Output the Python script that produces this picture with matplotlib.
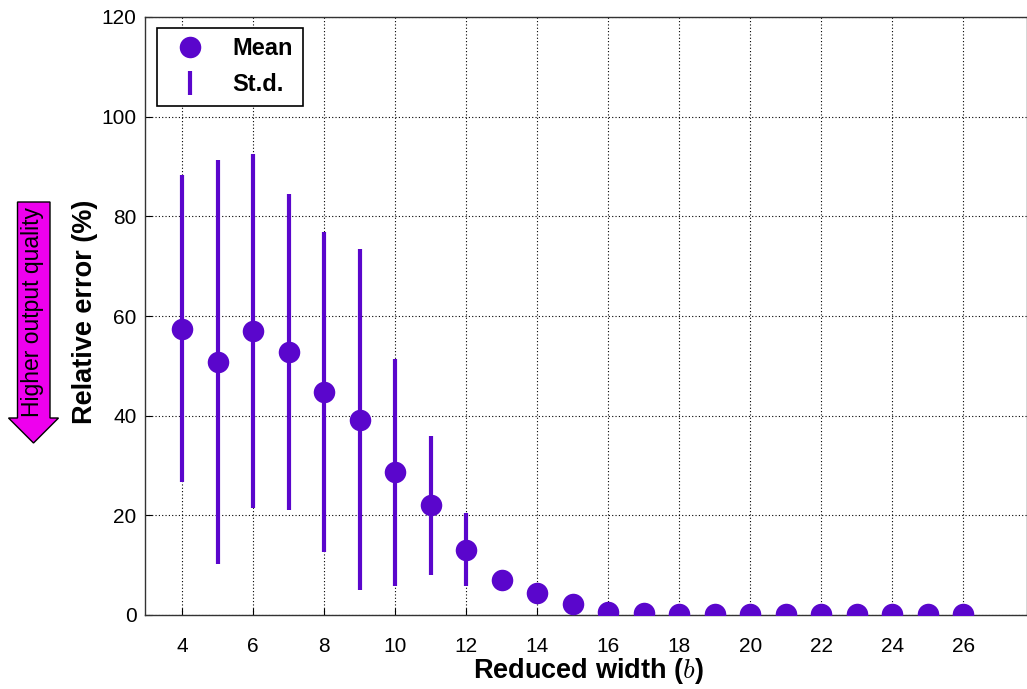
import matplotlib
matplotlib.use("Agg")
import matplotlib.pyplot as plt
from matplotlib.patches import Polygon

widths = [4, 5, 6, 7, 8, 9, 10, 11, 12, 13, 14, 15, 16, 17, 18, 19, 20, 21, 22, 23, 24, 25, 26]
mean_err = [57.4, 50.8, 57.0, 52.8, 44.8, 39.2, 28.6, 22.0, 13.1, 7.1, 4.5, 2.2, 0.7, 0.5, 0.3, 0.3, 0.3, 0.3, 0.3, 0.3, 0.3, 0.3, 0.3]
std_err = [30.8, 40.6, 35.5, 31.7, 32.1, 34.2, 22.8, 13.9, 7.3, 2.0, 1.5, 1.0, 0.5, 0.4, 0.2, 0.2, 0.2, 0.2, 0.2, 0.2, 0.2, 0.2, 0.2]
xticks = list(range(4, 27, 2))
yticks = list(range(0, 121, 20))

color = "#5a06cc"
plt.rcParams['font.family'] = ['Liberation Sans', 'DejaVu Sans']
plt.rcParams['mathtext.fontset'] = 'cm'

W, H = 1027, 689
fig = plt.figure(figsize=(W / 100, H / 100), dpi=100)
AX_L, AX_B, AX_T = 145, 615, 17
ax = fig.add_axes([AX_L / W, 1 - AX_B / H, (W - AX_L) / W, (AX_B - AX_T) / H])

ax.errorbar(widths, mean_err, yerr=std_err, fmt='none', ecolor=color,
            elinewidth=3.0, capsize=0, label='St.d.', zorder=2)
ax.plot(widths, mean_err, 'o', color=color, markersize=15.5, markeredgewidth=0,
        label='Mean', zorder=3)

ax.set_xlim(2.95, 27.8)
ax.set_ylim(0, 120)
ax.set_xticks(xticks)
ax.set_yticks(yticks)
ax.tick_params(direction='in', labelsize=15, length=5)
ax.tick_params(axis='x', pad=16)
ax.tick_params(axis='y', pad=6)
ax.grid(True, color='black', linestyle=(0, (1, 2)), linewidth=0.8)
ax.set_axisbelow(True)
for s in ax.spines.values():
    s.set_color('#333333')
    s.set_linewidth(1.0)

ax.set_xlabel('Reduced width ($b$)', fontsize=19.5, fontweight='bold')
ax.set_ylabel('Relative error (%)', fontsize=19.5, fontweight='bold')
axw, axh = W - AX_L, AX_B - AX_T
ax.xaxis.set_label_coords((588 - AX_L) / axw, (AX_B - 671) / axh)
ax.yaxis.set_label_coords((85 - AX_L) / axw, (AX_B - 312) / axh)
ax.xaxis.label.set_va('center')
ax.yaxis.label.set_va('center')

handles, labels = ax.get_legend_handles_labels()
order = [labels.index('Mean'), labels.index('St.d.')]
leg = ax.legend([handles[i] for i in order], [labels[i] for i in order],
                loc='upper left', bbox_to_anchor=((157 - AX_L) / axw, 1 - (28 - AX_T) / axh),
                borderaxespad=0, fancybox=False, framealpha=1, edgecolor='black',
                prop={'weight': 'bold', 'size': 17}, handlelength=2.0,
                handletextpad=0.8, borderpad=0.4, labelspacing=0.55)
leg.get_frame().set_linewidth(1.2)

# magenta arrow
def P(x, y):
    return (x / W, 1 - y / H)
verts = [P(17.5, 202), P(50, 202), P(50, 418), P(58.5, 418), P(33.5, 443),
         P(8.5, 418), P(17.5, 418)]
fig.patches.append(Polygon(verts, closed=True, transform=fig.transFigure,
                           facecolor='#ee00ee', edgecolor='black', linewidth=1.0))
fig.text(33 / W, 1 - 312 / H, 'Higher output quality', rotation=90, ha='center',
         va='center', fontsize=16.5, color='black')

fig.savefig('out.png', dpi=100)
